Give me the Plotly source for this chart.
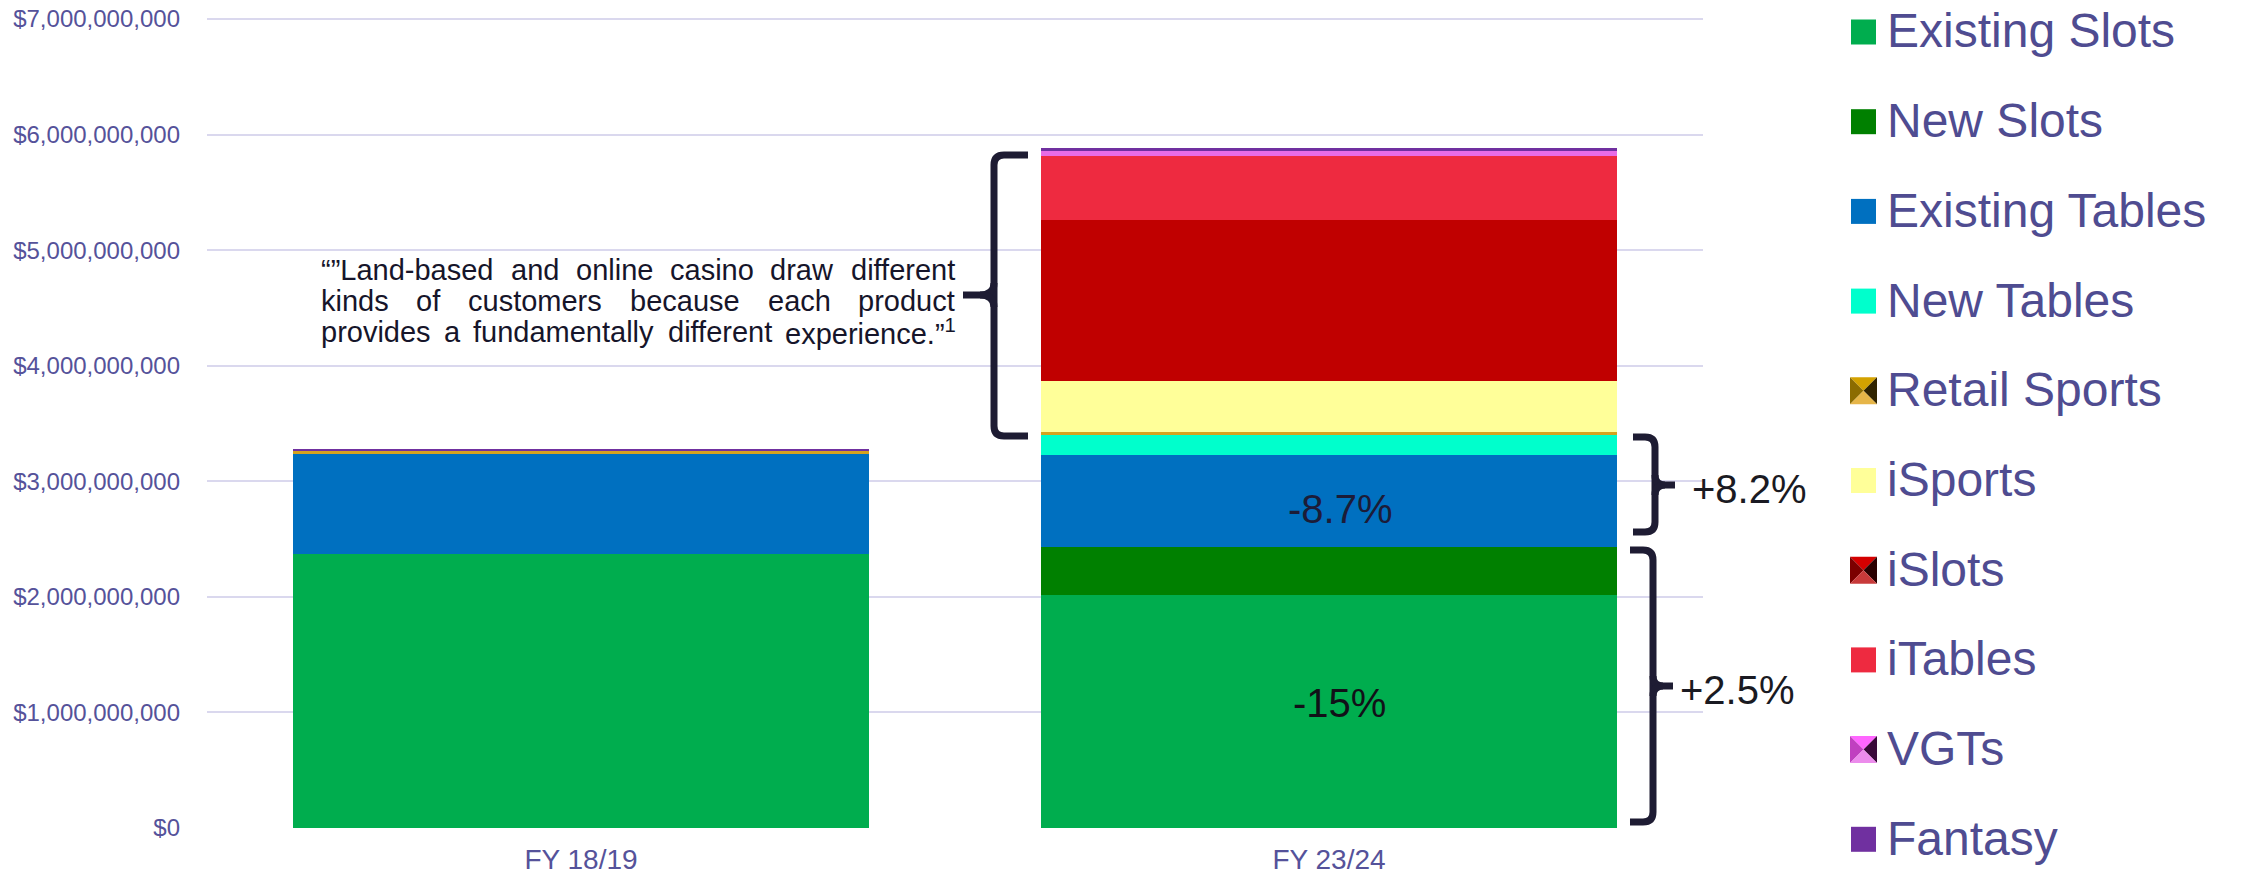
import plotly.graph_objects as go

# ---------------- data ----------------
categories = ["FY 18/19", "FY 23/24"]
series_names = ["Existing Slots", "New Slots", "Existing Tables", "New Tables",
                "Retail Sports", "iSports", "iSlots", "iTables", "VGTs", "Fantasy"]
existing_slots = [2.373e9, 2.012e9]
new_slots = [0.0, 0.418e9]
existing_tables = [0.868e9, 0.800e9]
new_tables = [0.0, 0.168e9]
retail_sports = [0.017e9, 0.029e9]
isports = [0.0, 0.445e9]
islots = [0.0, 1.393e9]
itables = [0.0, 0.547e9]
vgts = [0.0, 0.045e9]
fantasy = [0.025e9, 0.028e9]
series_values = [existing_slots, new_slots, existing_tables, new_tables, retail_sports,
                 isports, islots, itables, vgts, fantasy]

y_tick_values = [0, 1e9, 2e9, 3e9, 4e9, 5e9, 6e9, 7e9]
segment_labels = ["-15%", "-8.7%"]          # change of Existing Slots / Existing Tables
brace_labels = ["+2.5%", "+8.2%"]           # change of all Slots / all Tables
quote_lines = [
    "“”Land-based and online casino draw different",
    "kinds of customers because each product",
    "provides a fundamentally different experience.”",
]
quote_footnote = "1"

# ---------------- style ----------------
colors = ["#00AD4E", "#008000", "#0070C0", "#00FFCC", "#D6A21E",
          "#FFFF99", "#C00000", "#EE2A40", "#E86CE6", "#7030A0"]
bevel_colors = {
    "Retail Sports": ("#D4A200", "#8C6C00", "#302300", "#E6B548"),
    "iSlots": ("#D40000", "#7C0000", "#2A0000", "#C83A3A"),
    "VGTs": ("#FF66FF", "#C040C0", "#3A0A3A", "#EC8CEC"),
}
FONT = "Arial, Liberation Sans, sans-serif"
AXIS_TXT = "#55529A"
LEG_TXT = "#4F4C91"
DARK = "#1E1C33"

# the page body has an 8px margin: figure is placed at (8, 8) in the window
OFF = 8
WIN_W, WIN_H = 2245, 877
TOP_TICK_PX = 19                              # window y of the $7B gridline
X0, X1, Y0, Y1 = 207, 1703, 16, 828          # plot area in window pixels
W, H = WIN_W - OFF, WIN_H - OFF
ML, MT = X0 - OFF, Y0 - OFF
MR, MB = WIN_W - X1, WIN_H - Y1
PW, PH = X1 - X0, Y1 - Y0
Y_MAX = y_tick_values[-1] * (Y1 - Y0) / (Y1 - TOP_TICK_PX)


def px(x):
    return (x - X0) / PW


def py(y):
    return (Y1 - y) / PH


fig = go.Figure()
for name, vals, col in zip(series_names, series_values, colors):
    fig.add_bar(x=categories, y=vals, name=name,
                marker=dict(color=col, line=dict(width=0)))

shapes = []
annotations = []


def path_px(cmds):
    out = []
    for c in cmds:
        op = c[0]
        pts = c[1:]
        out.append(op + " " + " ".join(f"{px(x):.6f},{py(y):.6f}" for x, y in pts))
    return " ".join(out)


def brace_shape(cmds):
    shapes.append(dict(type="path", xref="paper", yref="paper", path=path_px(cmds),
                       line=dict(color=DARK, width=7), fillcolor="rgba(0,0,0,0)"))


# left brace (online products)
r = 10
bx, top, bot, mid, tipx, armx = 994, 155, 436, 295, 963, 1028
brace_shape([("M", (armx, top)), ("L", (bx + r, top)), ("Q", (bx, top), (bx, top + r)),
             ("L", (bx, bot - r)), ("Q", (bx, bot), (bx + r, bot)), ("L", (armx, bot))])
brace_shape([("M", (bx, mid - 12)), ("Q", (bx, mid), (bx - 14, mid)), ("L", (tipx, mid))])
brace_shape([("M", (bx, mid + 12)), ("Q", (bx, mid), (bx - 14, mid))])


def right_brace(bx, top, bot, mid, armx, tipx):
    brace_shape([("M", (armx, top)), ("L", (bx - r, top)), ("Q", (bx, top), (bx, top + r)),
                 ("L", (bx, bot - r)), ("Q", (bx, bot), (bx - r, bot)), ("L", (armx, bot))])
    brace_shape([("M", (bx, mid - 10)), ("Q", (bx, mid), (bx + 10, mid)), ("L", (tipx, mid))])
    brace_shape([("M", (bx, mid + 10)), ("Q", (bx, mid), (bx + 10, mid))])


right_brace(1655, 437, 532, 485, 1633, 1675)
right_brace(1653, 550, 822, 686, 1630, 1673)

annotations.append(dict(x=px(1690), y=py(489), xref="paper", yref="paper", text=brace_labels[1],
                        showarrow=False, xanchor="left", yanchor="middle",
                        font=dict(family=FONT, size=40, color="#1A1A22")))
annotations.append(dict(x=px(1678), y=py(690), xref="paper", yref="paper", text=brace_labels[0],
                        showarrow=False, xanchor="left", yanchor="middle",
                        font=dict(family=FONT, size=40, color="#1A1A22")))

# segment labels on FY 23/24 bar
mid_slots = existing_slots[1] / 2
mid_tables = existing_slots[1] + new_slots[1] + existing_tables[1] / 2
annotations.append(dict(x=categories[1], y=mid_slots, text=segment_labels[0], showarrow=False,
                        xshift=10, yshift=9, font=dict(family=FONT, size=40, color="#111118")))
annotations.append(dict(x=categories[1], y=mid_tables, text=segment_labels[1], showarrow=False,
                        xshift=11, yshift=-8, font=dict(family=FONT, size=40, color="#1C1C38")))

# quote, justified
AW = {' ': 278, 'a': 556, 'b': 556, 'c': 500, 'd': 556, 'e': 556, 'f': 278, 'g': 556, 'h': 556,
      'i': 222, 'j': 222, 'k': 500, 'l': 222, 'm': 833, 'n': 556, 'o': 556, 'p': 556, 'q': 556,
      'r': 333, 's': 500, 't': 278, 'u': 556, 'v': 500, 'w': 722, 'x': 500, 'y': 500, 'z': 500,
      'L': 556, '-': 333, '.': 278, '“': 333, '”': 333, '1': 556}
QF = 29
QL, QR = 321, 955
q_centers = [270.0, 301.0, 332.0]
for li, line in enumerate(quote_lines):
    words = line.split(" ")
    widths = [sum(AW.get(ch, 556) for ch in wd) / 1000 * QF for wd in words]
    last = li == len(quote_lines) - 1
    if last:
        widths[-1] += 0.556 * QF * 0.6
    gap = (QR - QL - sum(widths)) / (len(words) - 1)
    x = QL
    for wi, (wd, wdt) in enumerate(zip(words, widths)):
        txt = wd
        if last and wi == len(words) - 1:
            txt = wd + "<sup>" + quote_footnote + "</sup>"
        annotations.append(dict(x=px(x + wdt / 2), y=py(q_centers[li]), xref="paper", yref="paper",
                                text=txt, showarrow=False, xanchor="center", yanchor="middle",
                                font=dict(family=FONT, size=QF, color="#16152A")))
        x += wdt + gap

# legend (drawn manually to match large markers)
for k, (name, col) in enumerate(zip(series_names, colors)):
    cy = 32 + 89.7 * k
    if name in bevel_colors:
        t, lft, rgt, btm = bevel_colors[name]
        s = 13.5
        cx = 1863.5
        x0, x1, y0, y1 = cx - s, cx + s, cy - s, cy + s
        for tri, fc in [([(x0, y0), (x1, y0), (cx, cy)], t),
                        ([(x0, y0), (cx, cy), (x0, y1)], lft),
                        ([(x1, y0), (x1, y1), (cx, cy)], rgt),
                        ([(x0, y1), (cx, cy), (x1, y1)], btm)]:
            p = "M " + " L ".join(f"{px(a):.6f},{py(b):.6f}" for a, b in tri) + " Z"
            shapes.append(dict(type="path", xref="paper", yref="paper", path=p,
                               fillcolor=fc, line=dict(width=0)))
    else:
        shapes.append(dict(type="rect", xref="paper", yref="paper",
                           x0=px(1851), x1=px(1876), y0=py(cy - 12.5), y1=py(cy + 12.5),
                           fillcolor=col, line=dict(width=0)))
    annotations.append(dict(x=px(1885), y=py(cy - 1), xref="paper", yref="paper", text=name,
                            showarrow=False, xanchor="left", yanchor="middle",
                            font=dict(family=FONT, size=48, color=LEG_TXT)))

fig.update_layout(
    width=W, height=H,
    barmode="stack", bargap=0.231,
    showlegend=False,
    plot_bgcolor="white", paper_bgcolor="white",
    margin=dict(l=ML, r=MR, t=MT, b=MB, autoexpand=False),
    shapes=shapes, annotations=annotations,
    font=dict(family=FONT),
)
fig.update_yaxes(range=[0, Y_MAX], tickvals=y_tick_values, tickformat="$,.0f",
                 showgrid=True, gridcolor="#DAD8EE", gridwidth=2, zeroline=False,
                 showline=False, ticks="", ticklabelstandoff=26, ticklabeloverflow="allow",
                 tickfont=dict(family=FONT, size=24, color=AXIS_TXT))
fig.update_xaxes(showgrid=False, showline=False, zeroline=False, ticks="",
                 ticklabelstandoff=12,
                 tickfont=dict(family=FONT, size=28, color=AXIS_TXT))

fig.write_html("out.html")
